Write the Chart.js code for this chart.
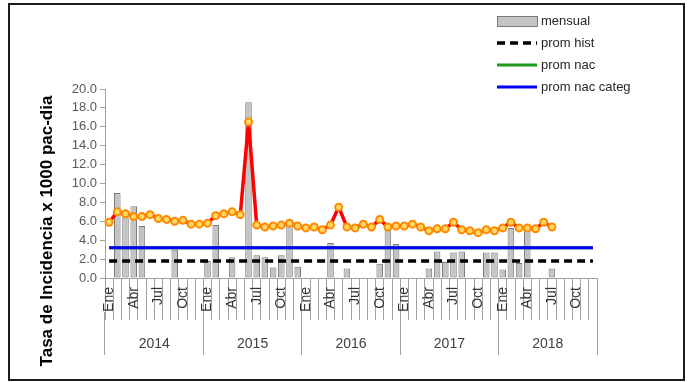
<!DOCTYPE html>
<html lang="es">
<head>
<meta charset="UTF-8">
<meta name="viewport" content="width=device-width, initial-scale=1.0">
<title>Tasa de incidencia mensual 2014-2018</title>
<script src="https://cdn.jsdelivr.net/npm/chart.js@4.4.1/dist/chart.umd.min.js"></script>
<style>
    html, body { margin: 0; padding: 0; background: #fff; }
    .wrap { position: relative; width: 691px; height: 382px; }
    .wrap canvas { position: absolute; left: 0; top: 0; }
    .frame {
        position: absolute; left: 8px; top: 3px; width: 677px; height: 378px;
        box-sizing: border-box; border: 2px solid #1c1c1c; pointer-events: none;
    }
</style>
</head>
<body>
<div class="wrap">
    <canvas id="chart" width="691" height="382"></canvas>
    <div class="frame"></div>
</div>

<script>
// periodo
const years = ['2014', '2015', '2016', '2017', '2018']
const months = ['Ene', 'Feb', 'Mar', 'Abr', 'May', 'Jun', 'Jul', 'Ago', 'Sep', 'Oct', 'Nov', 'Dic']

// tasa mensual (barras)
const mensual = [
    0, 9.0, 6.4, 7.6, 5.5, 0, 0, 0, 3.0, 0, 0, 0,          // 2014
    1.8, 5.6, 0, 2.2, 0, 18.6, 2.4, 2.2, 1.1, 2.4, 5.6, 1.2, // 2015
    0, 0, 0, 3.7, 0, 1.0, 0, 0, 0, 1.5, 5.2, 3.6,          // 2016
    0, 0, 0, 1.0, 2.8, 1.7, 2.7, 2.8, 0, 0, 2.7, 2.7,      // 2017
    0.9, 5.3, 1.6, 5.1, 0, 0, 1.0, 0, 0, 0, 0, 0           // 2018
]

// tasa acumulada (linea roja), hasta jul 2018
const acumulada = [
    5.9, 7.0, 6.8, 6.5, 6.5, 6.7, 6.3, 6.2, 6.0, 6.1, 5.7, 5.7,
    5.8, 6.6, 6.8, 7.0, 6.7, 16.5, 5.6, 5.4, 5.5, 5.6, 5.8, 5.5,
    5.3, 5.4, 5.1, 5.6, 7.5, 5.4, 5.3, 5.7, 5.4, 6.2, 5.4, 5.5,
    5.5, 5.7, 5.4, 5.0, 5.2, 5.2, 5.9, 5.1, 5.0, 4.8, 5.1, 5.0,
    5.3, 5.9, 5.3, 5.3, 5.2, 5.9, 5.4
]

// promedios de referencia
const promHist = 1.8
const promNac = 3.2
const promNacCateg = 3.2

const yTicks = { min: 0, max: 20, step: 2 }
const yTitle = 'Tasa de Incidencia x 1000 pac-dia'
const legendOrder = ['mensual', 'prom hist', 'prom nac', 'prom nac categ']

const labels = []
years.forEach(y => months.forEach(m => labels.push(m)))

const font = '"Liberation Sans Narrow", "Liberation Sans", Arial, sans-serif'
const axisGrey = '#a0a0a0'

// leyenda en columna arriba a la derecha
const legendBox = {
    id: 'legendBox',
    afterDraw(chart, args, opts) {
        const ctx = chart.ctx
        ctx.save()
        ctx.font = opts.font
        ctx.textBaseline = 'middle'
        legendOrder.forEach((name, i) => {
            const ds = chart.data.datasets.find(d => d.label === name)
            const x = opts.left
            const y = opts.top + i * opts.rowHeight
            if (ds.type === 'bar') {
                ctx.fillStyle = ds.backgroundColor
                ctx.strokeStyle = ds.borderColor
                ctx.lineWidth = 1
                ctx.fillRect(x, y - 4, opts.boxWidth, 9)
                ctx.strokeRect(x + 0.5, y - 4.5, opts.boxWidth, 10)
            } else {
                ctx.strokeStyle = ds.borderColor
                ctx.lineWidth = ds.borderWidth
                ctx.setLineDash(ds.borderDash || [])
                ctx.beginPath()
                ctx.moveTo(x, y)
                ctx.lineTo(x + opts.boxWidth, y)
                ctx.stroke()
                ctx.setLineDash([])
            }
            ctx.fillStyle = opts.color
            ctx.fillText(name, x + opts.boxWidth + 4, y)
        })
        ctx.restore()
    }
}

// titulo del eje y, centrado sobre el eje y las etiquetas de fecha
const axisTitle = {
    id: 'axisTitle',
    afterDraw(chart, args, opts) {
        const ctx = chart.ctx
        ctx.save()
        ctx.translate(opts.x, opts.y)
        ctx.rotate(-Math.PI / 2)
        ctx.font = opts.font
        ctx.fillStyle = opts.color
        ctx.textAlign = 'center'
        ctx.textBaseline = 'middle'
        ctx.fillText(opts.text, 0, 0)
        ctx.restore()
    }
}

let ctx = document.getElementById('chart').getContext('2d')
let incidenceChart = new Chart(ctx, {
    data: {
        labels: labels,
        datasets: [{
            type: 'line',
            label: 'tasa',
            data: acumulada,
            borderColor: '#ff0000',
            borderWidth: 3.5,
            tension: 0,
            pointRadius: 3.5,
            pointBorderWidth: 2,
            pointBackgroundColor: '#ffd966',
            pointBorderColor: '#ff8a00',
            order: 0
        }, {
            type: 'line',
            label: 'prom nac categ',
            data: labels.map(() => promNacCateg),
            borderColor: '#0000ff',
            borderWidth: 3,
            pointRadius: 0,
            order: 1
        }, {
            type: 'line',
            label: 'prom nac',
            data: labels.map(() => promNac),
            borderColor: '#1f9a1f',
            borderWidth: 3,
            pointRadius: 0,
            order: 2
        }, {
            type: 'line',
            label: 'prom hist',
            data: labels.map(() => promHist),
            borderColor: '#000000',
            borderWidth: 3.5,
            borderDash: [8, 5],
            pointRadius: 0,
            order: 3
        }, {
            type: 'bar',
            label: 'mensual',
            data: mensual,
            backgroundColor: '#c4c4c4',
            borderColor: '#7a7a7a',
            borderWidth: 1,
            borderSkipped: false,
            barPercentage: 0.8,
            categoryPercentage: 1,
            order: 4
        }]
    },
    options: {
        responsive: false,
        animation: false,
        layout: { padding: { left: 37, top: 89, right: 94, bottom: 20 } },
        plugins: {
            legend: { display: false },
            tooltip: { enabled: false },
            legendBox: {
                left: 497, top: 21, rowHeight: 22, boxWidth: 40,
                font: '13px ' + font, color: '#262626'
            },
            axisTitle: {
                text: yTitle, x: 47, y: 231,
                font: 'bold 17px ' + font, color: '#000'
            }
        },
        scales: {
            y: {
                min: yTicks.min,
                max: yTicks.max,
                ticks: {
                    stepSize: yTicks.step,
                    callback: v => v.toFixed(1),
                    font: { size: 13, family: font },
                    color: '#595959',
                    padding: 3
                },
                grid: { drawOnChartArea: false, tickLength: 5, color: axisGrey },
                border: { color: axisGrey },
                afterFit: s => { s.width = 68 }
            },
            x: {
                offset: true,
                grid: { offset: true, drawOnChartArea: false, tickLength: 42, color: axisGrey },
                border: { color: axisGrey },
                ticks: {
                    autoSkip: false,
                    minRotation: 90,
                    maxRotation: 90,
                    padding: -33,
                    font: { size: 14, family: font },
                    color: '#333333',
                    callback: function (v, i) { return i % 3 === 0 ? this.getLabelForValue(v) : '' }
                },
                afterFit: s => { s.height = 34 }
            },
            x2: {
                type: 'category',
                axis: 'x',
                labels: years,
                position: 'bottom',
                offset: true,
                grid: { offset: true, drawOnChartArea: false, tickLength: 43, color: axisGrey },
                border: { display: false },
                ticks: { padding: -19, font: { size: 14, family: font }, color: '#404040' },
                afterFit: s => { s.height = 50 }
            }
        }
    },
    plugins: [legendBox, axisTitle]
})
</script>
</body>
</html>
